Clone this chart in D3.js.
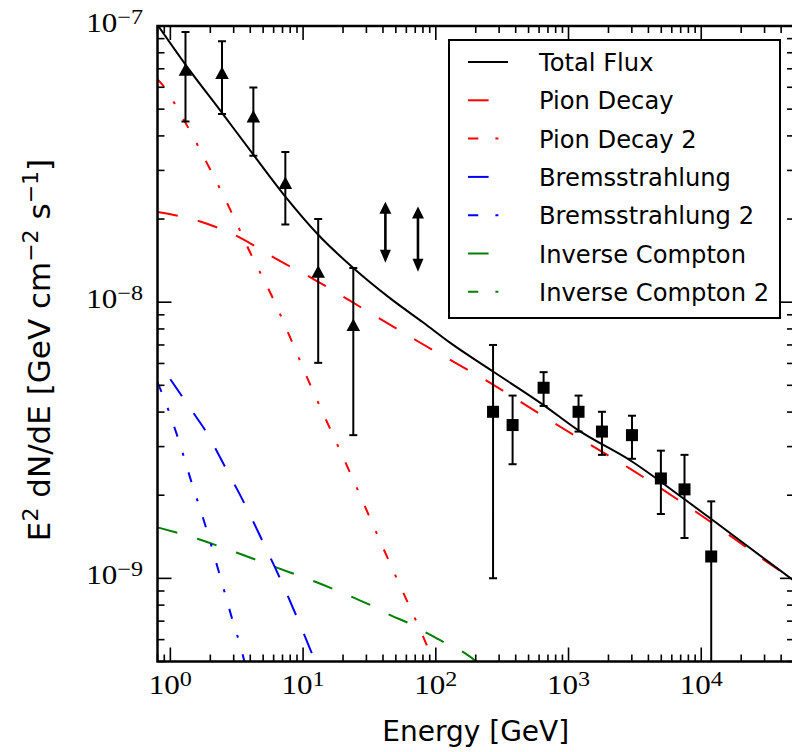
<!DOCTYPE html>
<html>
<head>
<meta charset="utf-8">
<script src="https://cdn.jsdelivr.net/npm/d3@7"></script>
<style>
  body { margin: 0; background: #fff; }
  svg { display: block; }
</style>
</head>
<body>
<svg id="chart" width="792" height="752"></svg>
<script>
// Model spectra, [energy in GeV, E^2 dN/dE in GeV cm^-2 s^-1]
const totalFlux = [[0.8,1.01e-7],[1.30,7.25e-8],[2.45,4.85e-8],[4.22,3.42e-8],[7.35,2.41e-8],[13.0,1.754e-8],[23.9,1.33e-8],[45.4,1.032e-8],[80.9,8.42e-9],[128.6,7.12e-9],[270,5.61e-9],[645,4.25e-9],[1183,3.44e-9],[3005,2.65e-9],[7310,1.95e-9],[11900,1.64e-9],[50000,9.8e-10]];
const pionDecay = [[0.8,2.12e-8],[1.68,1.96e-8],[3.37,1.71e-8],[6.18,1.44e-8],[11.7,1.22e-8],[30.0,9.32e-9],[74.2,7.19e-9],[257,5.10e-9],[866,3.54e-9],[3007,2.47e-9],[9830,1.70e-9],[31260,1.148e-9],[50000,9.86e-10]];
const pionDecay2 = [[0.8,6.41e-8],[0.841,6.25e-8],[1.30,4.46e-8],[1.944,3.10e-8],[2.83,2.16e-8],[4.00,1.51e-8],[5.84,1.048e-8],[11.5,4.94e-9],[22.97,2.37e-9],[45.4,1.127e-9],[89.8,5.42e-10],[101,4.73e-10]];
const bremsstrahlung = [[1.0,5.26e-9],[1.498,3.96e-9],[1.835,3.43e-9],[2.60,2.52e-9],[3.63,1.86e-9],[4.96,1.36e-9],[6.74,9.94e-10],[9.0,7.22e-10],[11.8,5.27e-10],[13.5,4.47e-10]];
const bremsstrahlung2 = [[0.8,5.12e-9],[0.841,4.84e-9],[1.123,3.30e-9],[1.439,2.24e-9],[1.857,1.525e-9],[2.34,1.04e-9],[2.95,7.02e-10],[3.41,5.58e-10],[3.67,4.85e-10]];
const inverseCompton = [[0.8,1.53e-9],[1.617,1.388e-9],[3.18,1.238e-9],[6.26,1.096e-9],[12.37,9.72e-10],[23.8,8.53e-10],[33.0,7.96e-10],[45.4,7.36e-10],[63.1,6.87e-10],[86.8,6.32e-10],[117.9,5.83e-10],[166.7,5.35e-10],[198.5,5.03e-10],[216,4.85e-10]];
const inverseCompton2 = [];

// Low-energy measurements (triangles)
const lowE     = [1.30, 2.45, 4.22, 7.35, 13.0, 23.9];
const lowFlux  = [6.95e-8, 6.76e-8, 4.70e-8, 2.70e-8, 1.29e-8, 8.27e-9];
const lowUpper = [9.52e-8, 8.80e-8, 5.99e-8, 3.50e-8, 2.0e-8, 1.33e-8];
const lowLower = [4.51e-8, 4.80e-8, 3.39e-8, 1.91e-8, 6.03e-9, 3.30e-9];

// Two-sided limit arrows
const limitE     = [41.7, 73.4];
const limitUpper = [2.31e-8, 2.22e-8];
const limitLower = [1.39e-8, 1.29e-8];

// High-energy measurements (squares)
const highE     = [270, 379, 649, 1190, 1786, 3007, 4966, 7480, 11890];
const highFlux  = [4.01e-9, 3.59e-9, 4.90e-9, 4.01e-9, 3.40e-9, 3.30e-9, 2.30e-9, 2.10e-9, 1.20e-9];
const highUpper = [7.0e-9, 4.59e-9, 5.58e-9, 4.59e-9, 4.01e-9, 3.88e-9, 2.90e-9, 2.80e-9, 1.90e-9];
const highLower = [1.0e-9, 2.59e-9, 4.21e-9, 3.40e-9, 2.80e-9, 2.71e-9, 1.71e-9, 1.40e-9, 3.0e-10];

const xMajorTicks = [1, 10, 100, 1000, 10000];
const xTickExp    = ["0", "1", "2", "3", "4"];
const yMajorTicks = [1e-9, 1e-8, 1e-7];
const yTickExp    = ["−9", "−8", "−7"];

const DASHED  = "20.6,20.6";
const DASHDOT = "10.3,17.1,3,17.1";

const series = [
  { name: "Total Flux",          data: totalFlux,       color: "#000000", dash: null },
  { name: "Pion Decay",          data: pionDecay,       color: "#ff0000", dash: DASHED },
  { name: "Pion Decay 2",        data: pionDecay2,      color: "#ff0000", dash: DASHDOT },
  { name: "Bremsstrahlung",      data: bremsstrahlung,  color: "#0000ff", dash: DASHED },
  { name: "Bremsstrahlung 2",    data: bremsstrahlung2, color: "#0000ff", dash: DASHDOT },
  { name: "Inverse Compton",     data: inverseCompton,  color: "#008000", dash: DASHED },
  { name: "Inverse Compton 2",   data: inverseCompton2, color: "#008000", dash: DASHDOT }
];

const L = 157.5, R = 794, T = 26, B = 661.5;
const x = d3.scaleLog().domain([0.8, 5e4]).range([L, R]);
const y = d3.scaleLog().domain([5e-10, 1e-7]).range([B, T]);

const svg = d3.select("#chart");
svg.append("rect").attr("width", 792).attr("height", 752).attr("fill", "#fff");

svg.append("defs").append("clipPath").attr("id", "plotClip")
  .append("rect").attr("x", L).attr("y", T).attr("width", R - L).attr("height", B - T);

const plot = svg.append("g").attr("clip-path", "url(#plotClip)");

// model curves, drawn back to front
const line = d3.line().x(d => x(d[0])).y(d => y(d[1])).curve(d3.curveMonotoneX);
series.slice().reverse().forEach(s => {
  plot.append("path")
    .datum(s.data)
    .attr("d", s.data.length ? line : null)
    .attr("fill", "none")
    .attr("stroke", s.color)
    .attr("stroke-width", 2)
    .attr("stroke-dasharray", s.dash)
    .attr("stroke-linecap", "butt");
});

// error bars with caps
function errorBars(es, up, lo) {
  const g = plot.append("g").attr("stroke", "#000").attr("stroke-width", 2);
  es.forEach((e, i) => {
    const cx = x(e);
    g.append("line").attr("x1", cx).attr("x2", cx).attr("y1", y(up[i])).attr("y2", y(lo[i]));
    g.append("line").attr("x1", cx - 4).attr("x2", cx + 4).attr("y1", y(up[i])).attr("y2", y(up[i]));
    g.append("line").attr("x1", cx - 4).attr("x2", cx + 4).attr("y1", y(lo[i])).attr("y2", y(lo[i]));
  });
}
errorBars(lowE, lowUpper, lowLower);
errorBars(highE, highUpper, highLower);

// triangle markers
plot.append("g").selectAll("path").data(lowE).join("path")
  .attr("transform", (e, i) => `translate(${x(e)},${y(lowFlux[i])})`)
  .attr("d", "M0,-6.5L6.8,6L-6.8,6Z")
  .attr("fill", "#000");

// square markers
plot.append("g").selectAll("rect").data(highE).join("rect")
  .attr("x", e => x(e) - 6).attr("y", (e, i) => y(highFlux[i]) - 6)
  .attr("width", 12).attr("height", 12)
  .attr("fill", "#000");

// two-sided limit arrows
const arrows = plot.append("g");
limitE.forEach((e, i) => {
  const cx = x(e), yt = y(limitUpper[i]), yb = y(limitLower[i]);
  arrows.append("line").attr("x1", cx).attr("x2", cx).attr("y1", yt + 8).attr("y2", yb - 8)
    .attr("stroke", "#000").attr("stroke-width", 2.6);
  arrows.append("path").attr("d", `M${cx},${yt}L${cx + 6},${yt + 12}L${cx - 6},${yt + 12}Z`).attr("fill", "#000");
  arrows.append("path").attr("d", `M${cx},${yb}L${cx + 5.5},${yb - 13}L${cx - 5.5},${yb - 13}Z`).attr("fill", "#000");
});

// ticks on all four sides, pointing inward
const ticks = svg.append("g").attr("stroke", "#000").attr("stroke-width", 1.6);
function xMinor() {
  const out = [];
  for (let p = -1; p <= 4; p++) for (let k = 1; k <= 9; k++) {
    const v = k * Math.pow(10, p);
    if (v >= 0.8 && v <= 5e4 && !xMajorTicks.includes(v)) out.push(v);
  }
  return out;
}
function yMinor() {
  const out = [];
  for (let p = -10; p <= -8; p++) for (let k = 2; k <= 9; k++) {
    const v = k * Math.pow(10, p);
    if (v >= 5e-10 && v < 1e-7) out.push(v);
  }
  return out;
}
xMajorTicks.forEach(v => {
  const px = x(v);
  ticks.append("line").attr("x1", px).attr("x2", px).attr("y1", B).attr("y2", B - 14);
  ticks.append("line").attr("x1", px).attr("x2", px).attr("y1", T).attr("y2", T + 14);
});
xMinor().forEach(v => {
  const px = x(v);
  ticks.append("line").attr("x1", px).attr("x2", px).attr("y1", B).attr("y2", B - 7);
  ticks.append("line").attr("x1", px).attr("x2", px).attr("y1", T).attr("y2", T + 7);
});
yMajorTicks.forEach(v => {
  const py = y(v);
  ticks.append("line").attr("x1", L).attr("x2", L + 14).attr("y1", py).attr("y2", py);
  ticks.append("line").attr("x1", R).attr("x2", R - 14).attr("y1", py).attr("y2", py);
});
yMinor().forEach(v => {
  const py = y(v);
  ticks.append("line").attr("x1", L).attr("x2", L + 7).attr("y1", py).attr("y2", py);
  ticks.append("line").attr("x1", R).attr("x2", R - 7).attr("y1", py).attr("y2", py);
});

// spines
svg.append("rect").attr("x", L).attr("y", T).attr("width", R - L).attr("height", B - T)
  .attr("fill", "none").attr("stroke", "#000").attr("stroke-width", 2.5);

// tick labels (serif, slightly widened)
const tickFont = "'Liberation Serif', 'Times New Roman', serif";
function powerLabel(px, py, exp, anchor) {
  const t = svg.append("text")
    .attr("transform", `translate(${px},${py}) scale(1.15,1)`)
    .attr("text-anchor", anchor).attr("font-family", tickFont).attr("font-size", 27).attr("fill", "#000");
  t.append("tspan").text("10");
  t.append("tspan").attr("dy", -8).attr("font-size", 21).text(exp);
}
xMajorTicks.forEach((v, i) => powerLabel(x(v), 694, xTickExp[i], "middle"));
yMajorTicks.forEach((v, i) => powerLabel(143, y(v) + 6, yTickExp[i], "end"));

// axis titles
const labelFont = "'DejaVu Sans', sans-serif";
svg.append("text").attr("x", (L + R) / 2).attr("y", 741)
  .attr("text-anchor", "middle").attr("font-family", labelFont).attr("font-size", 28).attr("fill", "#000")
  .text("Energy [GeV]");

const yl = svg.append("text")
  .attr("transform", "translate(50,350) rotate(-90)")
  .attr("text-anchor", "middle").attr("font-family", labelFont).attr("font-size", 31).attr("fill", "#000");
yl.append("tspan").text("E");
yl.append("tspan").attr("dy", -12).attr("font-size", 22).text("2");
yl.append("tspan").attr("dy", 12).text(" dN/dE [GeV cm");
yl.append("tspan").attr("dy", -12).attr("font-size", 22).text("−2");
yl.append("tspan").attr("dy", 12).text(" s");
yl.append("tspan").attr("dy", -12).attr("font-size", 22).text("−1");
yl.append("tspan").attr("dy", 12).text("]");

// legend
const lg = svg.append("g");
lg.append("rect").attr("x", 449).attr("y", 40).attr("width", 331).attr("height", 278)
  .attr("fill", "#fff").attr("stroke", "#000").attr("stroke-width", 2);
series.forEach((s, i) => {
  const cy = 62 + i * 38.3;
  lg.append("line").attr("x1", 468).attr("x2", 508).attr("y1", cy).attr("y2", cy)
    .attr("stroke", s.color).attr("stroke-width", 2).attr("stroke-dasharray", s.dash);
  lg.append("text").attr("x", 539).attr("y", cy + 9)
    .attr("font-family", labelFont).attr("font-size", 24.2).attr("fill", "#000").text(s.name);
});
</script>
</body>
</html>
